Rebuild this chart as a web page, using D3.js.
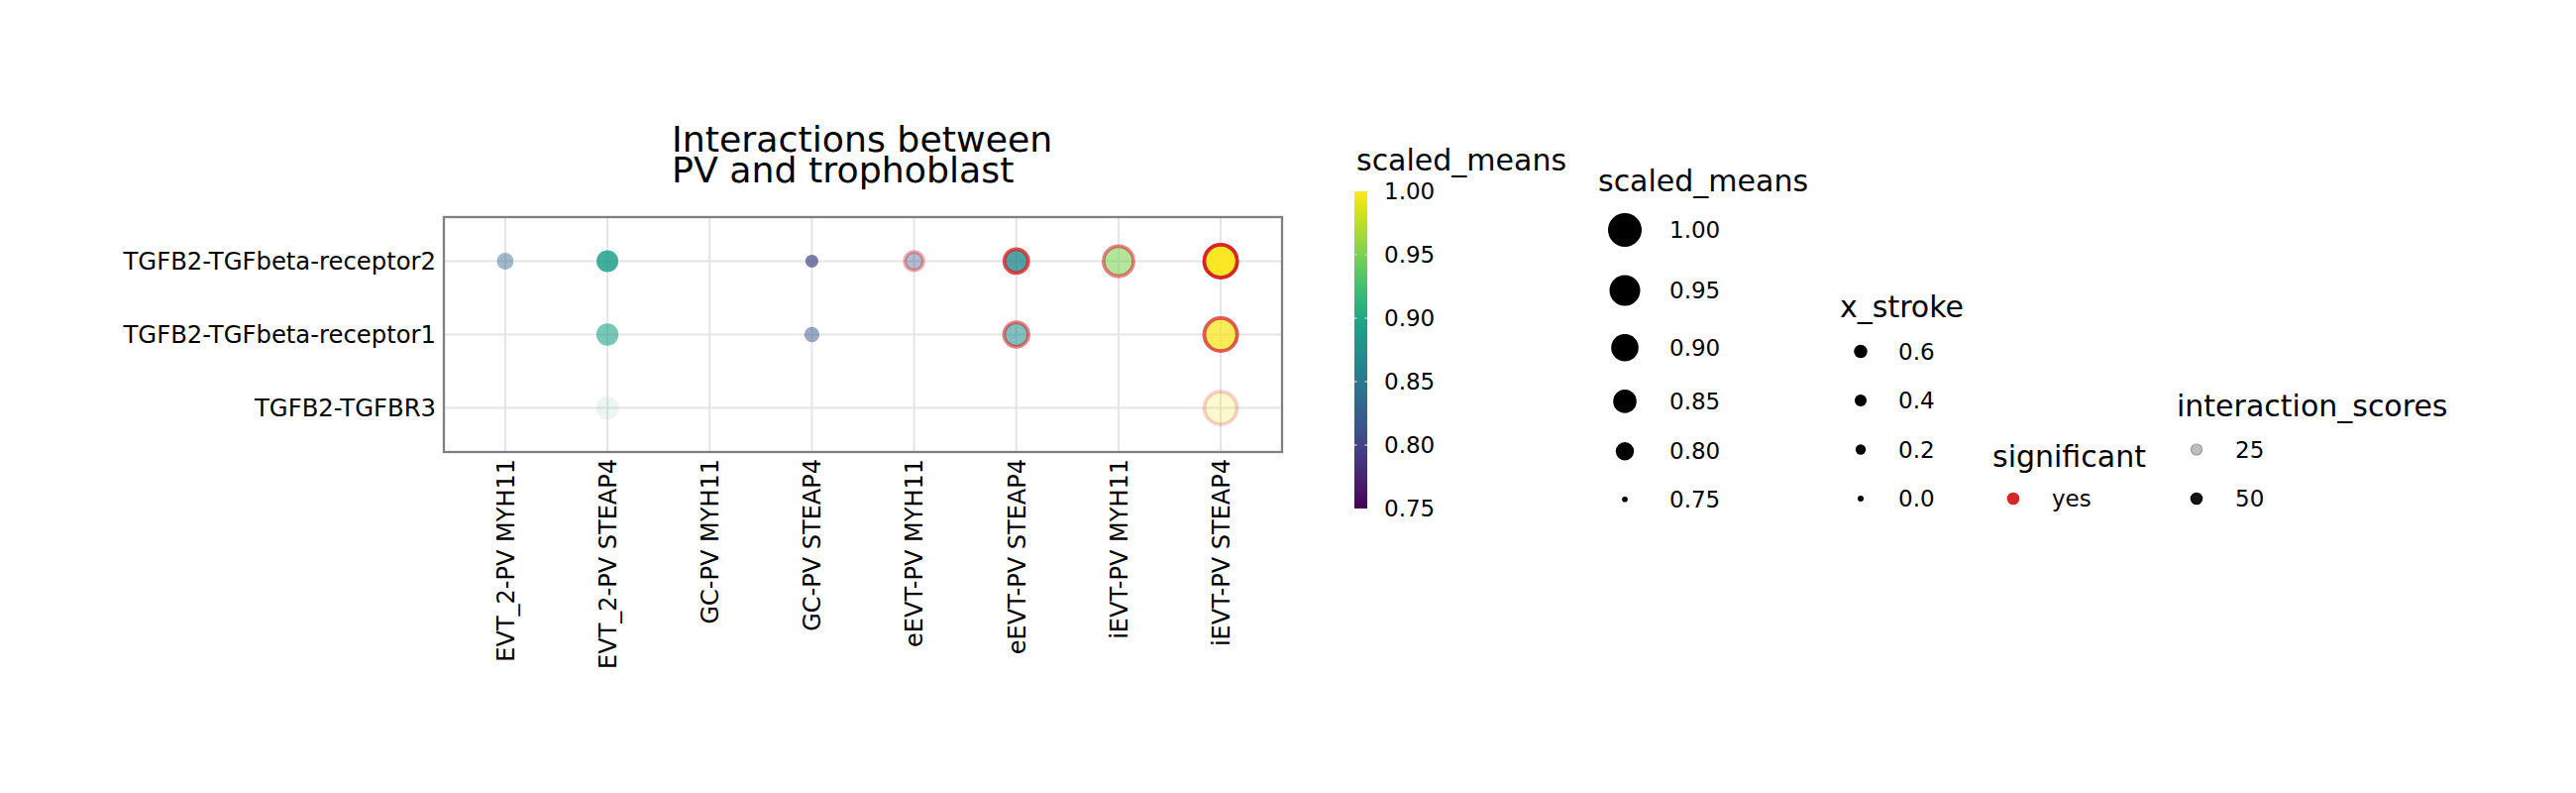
<!DOCTYPE html>
<html>
<head>
<meta charset="utf-8">
<script src="https://cdn.jsdelivr.net/npm/d3@7"></script>
<style>
  html, body { margin: 0; padding: 0; background: #ffffff; }
  svg { display: block; }
  text { font-family: "DejaVu Sans", sans-serif; fill: #000; }
</style>
</head>
<body>
<svg id="chart" width="2600" height="800"></svg>
<script>
// ---------------- data ----------------
const interactions = ["TGFB2-TGFbeta-receptor2", "TGFB2-TGFbeta-receptor1", "TGFB2-TGFBR3"];
const celltypes = ["EVT_2-PV MYH11", "EVT_2-PV STEAP4", "GC-PV MYH11", "GC-PV STEAP4",
                   "eEVT-PV MYH11", "eEVT-PV STEAP4", "iEVT-PV MYH11", "iEVT-PV STEAP4"];

const pointInteraction = [
  "TGFB2-TGFbeta-receptor2", "TGFB2-TGFbeta-receptor2", "TGFB2-TGFbeta-receptor2",
  "TGFB2-TGFbeta-receptor2", "TGFB2-TGFbeta-receptor2", "TGFB2-TGFbeta-receptor2",
  "TGFB2-TGFbeta-receptor2",
  "TGFB2-TGFbeta-receptor1", "TGFB2-TGFbeta-receptor1", "TGFB2-TGFbeta-receptor1",
  "TGFB2-TGFbeta-receptor1",
  "TGFB2-TGFBR3", "TGFB2-TGFBR3"];
const pointCelltype = [
  "EVT_2-PV MYH11", "EVT_2-PV STEAP4", "GC-PV STEAP4", "eEVT-PV MYH11",
  "eEVT-PV STEAP4", "iEVT-PV MYH11", "iEVT-PV STEAP4",
  "EVT_2-PV STEAP4", "GC-PV STEAP4", "eEVT-PV STEAP4", "iEVT-PV STEAP4",
  "EVT_2-PV STEAP4", "iEVT-PV STEAP4"];
const scaledMeans = [0.832, 0.889, 0.799, 0.8125, 0.868, 0.950, 1.000,
                     0.893, 0.8175, 0.875, 0.998,
                     0.902, 0.995];
const interactionScores = [32.7, 47.3, 41.5, 30.0, 45.4, 36.9, 53.1,
                           38.1, 34.6, 36.9, 43.8,
                           19.2, 23.4];
const significant = [false, false, false, true, true, true, true,
                     false, false, true, true,
                     false, true];

const titleLines = ["Interactions between", "PV and trophoblast"];
const colorTicks = [1.00, 0.95, 0.90, 0.85, 0.80, 0.75];
const sizeBreaks = [1.00, 0.95, 0.90, 0.85, 0.80, 0.75];
const strokeBreaks = [0.6, 0.4, 0.2, 0.0];
const significantLevels = ["yes"];
const scoreBreaks = [25, 50];

// ---------------- setup ----------------
const svg = d3.select("#chart");
svg.append("rect").attr("width", 2600).attr("height", 800).attr("fill", "#ffffff");

const panel = { left: 448, top: 219, right: 1294, bottom: 456 };
const x = d3.scalePoint().domain(celltypes).range([panel.left, panel.right]).padding(0.6);
const y = d3.scalePoint().domain(interactions).range([panel.top, panel.bottom]).padding(0.6);

const color = d3.scaleSequential(d3.interpolateViridis).domain([0.75, 1.0]);
const sizeNorm = d3.scaleLinear().domain([0.75, 1.0]).range([0, 1]).clamp(true);
const pointDiam = d3.scaleSqrt().domain([0, 1]).range([0, 29.5]);
const legendDiam = d3.scaleSqrt().domain([0, 1]).range([0, 28.33]);
const alpha = d3.scaleLinear().domain(d3.extent(interactionScores)).range([0.1, 1.0]);
const strokeDiam = d3.scaleSqrt().domain([0, 0.6]).range([6, 13.5]);
const sigColor = d3.scaleOrdinal().domain(significantLevels).range(["#d62728"]);
const SIG_W = 3.8;
const FONT_TICK = 24.3, FONT_XTICK = 24, FONT_TITLE = 36.3, FONT_LTITLE = 30, FONT_LLABEL = 23;

// ---------------- title ----------------
const title = svg.append("text").attr("x", 678).attr("font-size", FONT_TITLE);
titleLines.forEach((t, i) => {
  title.append("tspan").attr("x", 678).attr("y", 153 + i * 31).text(t);
});

// ---------------- panel grid ----------------
const g = svg.append("g");
g.selectAll("line.vg").data(celltypes).join("line")
  .attr("x1", d => x(d)).attr("x2", d => x(d))
  .attr("y1", panel.top).attr("y2", panel.bottom)
  .attr("stroke", "#e5e5e5").attr("stroke-width", 2);
g.selectAll("line.hg").data(interactions).join("line")
  .attr("y1", d => y(d)).attr("y2", d => y(d))
  .attr("x1", panel.left).attr("x2", panel.right)
  .attr("stroke", "#e5e5e5").attr("stroke-width", 2);

// ---------------- points ----------------
const pts = scaledMeans.map((v, i) => ({
  cx: x(pointCelltype[i]), cy: y(pointInteraction[i]), v,
  a: alpha(interactionScores[i]), sig: significant[i]
}));
g.selectAll("circle.pt").data(pts).join("circle")
  .attr("cx", d => d.cx).attr("cy", d => d.cy)
  .attr("r", d => (pointDiam(sizeNorm(d.v)) + (d.sig ? SIG_W : 0)) / 2)
  .attr("fill", d => color(d.v)).attr("fill-opacity", d => d.a)
  .attr("stroke", d => d.sig ? sigColor("yes") : "none")
  .attr("stroke-width", d => d.sig ? SIG_W : 0)
  .attr("stroke-opacity", d => d.a);

// panel border
g.append("rect").attr("x", panel.left).attr("y", panel.top)
  .attr("width", panel.right - panel.left).attr("height", panel.bottom - panel.top)
  .attr("fill", "none").attr("stroke", "#808080").attr("stroke-width", 2.3);

// ---------------- axes ----------------
const yAxis = d3.axisLeft(y).tickSize(0).tickPadding(8);
const ya = svg.append("g").attr("transform", `translate(${panel.left},0)`).call(yAxis);
ya.select(".domain").remove();
ya.selectAll("text").attr("font-size", FONT_TICK).attr("font-family", "DejaVu Sans").attr("fill", "#000");

const xAxis = d3.axisBottom(x).tickSize(0).tickPadding(0);
const xa = svg.append("g").attr("transform", `translate(0,${panel.bottom})`).call(xAxis);
xa.select(".domain").remove();
xa.selectAll("text")
  .attr("font-size", FONT_XTICK).attr("font-family", "DejaVu Sans").attr("fill", "#000")
  .attr("transform", "rotate(-90)")
  .attr("text-anchor", "end")
  .attr("x", -7).attr("y", 0).attr("dy", "0.35em");

// ---------------- colorbar legend ----------------
const cb = { x: 1367, w: 13, top: 193, bottom: 513 };
const cbY = d3.scaleLinear().domain([0.75, 1.0]).range([cb.bottom, cb.top]);
const defs = svg.append("defs");
const grad = defs.append("linearGradient").attr("id", "vir")
  .attr("x1", 0).attr("y1", 1).attr("x2", 0).attr("y2", 0);
d3.range(0, 1.0001, 0.05).forEach(t => {
  grad.append("stop").attr("offset", t).attr("stop-color", d3.interpolateViridis(t));
});
svg.append("text").attr("x", 1369).attr("y", 172).attr("font-size", FONT_LTITLE).text("scaled_means");
svg.append("rect").attr("x", cb.x).attr("y", cb.top).attr("width", cb.w)
  .attr("height", cb.bottom - cb.top).attr("fill", "url(#vir)");
const cbAxis = d3.axisRight(cbY).tickValues(colorTicks).tickFormat(d3.format(".2f")).tickSize(0).tickPadding(0);
const cba = svg.append("g").attr("transform", `translate(${cb.x + 30},0)`).call(cbAxis);
cba.select(".domain").remove();
cba.selectAll("text").attr("font-size", FONT_LLABEL).attr("font-family", "DejaVu Sans")
  .attr("fill", "#000").attr("x", 0);
colorTicks.filter(t => t > 0.75 && t < 1.0).forEach(t => {
  [[cb.x, cb.x + 2.6], [cb.x + cb.w - 2.6, cb.x + cb.w]].forEach(([a, b]) => {
    svg.append("line").attr("x1", a).attr("x2", b).attr("y1", cbY(t)).attr("y2", cbY(t))
      .attr("stroke", "#d9d9d9").attr("stroke-width", 1.2);
  });
});

// ---------------- size legend ----------------
svg.append("text").attr("x", 1613).attr("y", 193).attr("font-size", FONT_LTITLE).text("scaled_means");
const sizeItems = sizeBreaks.map(v => ({ v, d: 5.67 + legendDiam(sizeNorm(v)) }));
let yy = 232;
sizeItems.forEach((it, i) => {
  if (i > 0) {
    const hPrev = Math.max(sizeItems[i - 1].d, 20), hCur = Math.max(it.d, 20);
    yy += (hPrev + hCur) / 2 + 28.5;
  }
  it.y = yy;
});
const sl = svg.append("g");
sl.selectAll("circle").data(sizeItems).join("circle")
  .attr("cx", 1640).attr("cy", d => d.y).attr("r", d => d.d / 2).attr("fill", "#000");
sl.selectAll("text").data(sizeItems).join("text")
  .attr("x", 1685).attr("y", d => d.y).attr("dy", "0.35em")
  .attr("font-size", FONT_LLABEL).text(d => d3.format(".2f")(d.v));

// ---------------- x_stroke legend ----------------
const ROW = 49.5, BOTTOM_ROW = 503;
svg.append("text").attr("x", 1857).attr("y", 320).attr("font-size", FONT_LTITLE).text("x_stroke");
const stl = svg.append("g");
stl.selectAll("circle").data(strokeBreaks).join("circle")
  .attr("cx", 1878).attr("cy", (d, i) => BOTTOM_ROW - (strokeBreaks.length - 1 - i) * ROW)
  .attr("r", d => strokeDiam(d) / 2).attr("fill", "#000");
stl.selectAll("text").data(strokeBreaks).join("text")
  .attr("x", 1916).attr("y", (d, i) => BOTTOM_ROW - (strokeBreaks.length - 1 - i) * ROW)
  .attr("dy", "0.35em").attr("font-size", FONT_LLABEL).text(d => d3.format(".1f")(d));

// ---------------- significant legend ----------------
svg.append("text").attr("x", 2011).attr("y", 471).attr("font-size", FONT_LTITLE).text("significant");
const sgl = svg.append("g");
sgl.selectAll("circle").data(significantLevels).join("circle")
  .attr("cx", 2032).attr("cy", BOTTOM_ROW).attr("r", 6.3).attr("fill", d => sigColor(d));
sgl.selectAll("text").data(significantLevels).join("text")
  .attr("x", 2071).attr("y", BOTTOM_ROW).attr("dy", "0.35em")
  .attr("font-size", FONT_LLABEL).text(d => d);

// ---------------- interaction_scores legend ----------------
svg.append("text").attr("x", 2197).attr("y", 420).attr("font-size", FONT_LTITLE).text("interaction_scores");
const isl = svg.append("g");
isl.selectAll("circle").data(scoreBreaks).join("circle")
  .attr("cx", 2217).attr("cy", (d, i) => BOTTOM_ROW - (scoreBreaks.length - 1 - i) * ROW)
  .attr("r", 5.6).attr("fill", "#000").attr("fill-opacity", d => alpha(d))
  .attr("stroke", "#000").attr("stroke-width", 1.4).attr("stroke-opacity", d => alpha(d));
isl.selectAll("text").data(scoreBreaks).join("text")
  .attr("x", 2256).attr("y", (d, i) => BOTTOM_ROW - (scoreBreaks.length - 1 - i) * ROW)
  .attr("dy", "0.35em").attr("font-size", FONT_LLABEL).text(d => d);
</script>
</body>
</html>
